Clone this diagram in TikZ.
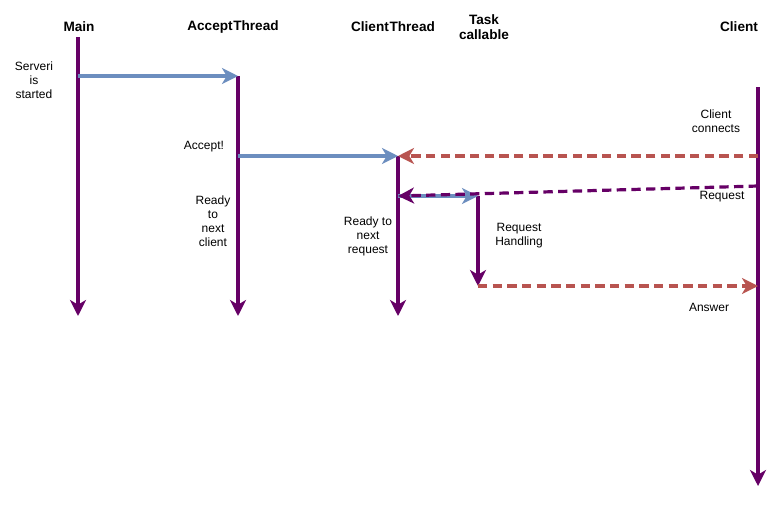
\documentclass[tikz,border=0pt]{standalone}
\usepackage{fontspec}
\setmainfont{Liberation Sans}
\usepackage{xcolor}
\usepackage{tikz}
\usetikzlibrary{arrows.meta}
\definecolor{lifepurple}{HTML}{660066}
\definecolor{msgblue}{HTML}{6C8EBF}
\definecolor{replyred}{HTML}{B85450}

\begin{document}
\begin{tikzpicture}[x=0.75pt,y=-0.75pt,
    tip/.style={-{Stealth[length=12pt,width=12pt,inset=3.5pt]}},
    life/.style={tip, draw=lifepurple, line width=2.4pt},
    call/.style={tip, draw=msgblue, line width=2.4pt},
    reply/.style={tip, draw=replyred, line width=2.4pt, dash pattern=on 7pt off 4pt},
    req/.style={tip, draw=lifepurple, line width=2.4pt, dash pattern=on 7pt off 4pt},
    head/.style={font=\bfseries\fontsize{10.2}{11.5}\selectfont, align=center},
    note/.style={font=\fontsize{9}{10.5}\selectfont, align=center}]
    \useasboundingbox (0,0) rectangle (767,511);

    % lifelines
    \coordinate (main top) at (78,37);    \coordinate (main end) at (78,316);
    \coordinate (acc top) at (238,76);    \coordinate (acc end) at (238,316);
    \coordinate (cli top) at (398,156);   \coordinate (cli end) at (398,316);
    \coordinate (task top) at (478,196);  \coordinate (task end) at (478,286);
    \coordinate (client top) at (758,87); \coordinate (client end) at (758,486);

    \node[head] (main) at (79,27) {Main};
    \node[head] (acc) at (233,27) {Accept\kern0.5pt Thread};
    \node[head] (cli) at (393,27) {Client\kern0.5pt Thread};
    \node[head] (task) at (484,27) {Task\\callable};
    \node[head] (client) at (739,27) {Client};

    \draw[life] (main top) -- (main end);
    \draw[life] (acc top) -- (acc end);
    \draw[life] (cli top) -- (cli end);
    \draw[life] (task top) -- (task end);
    \draw[life] (client top) -- (client end);

    % messages
    \coordinate (start) at (78,76);
    \coordinate (accept) at (238,156);
    \coordinate (connect) at (758,156);
    \coordinate (request) at (758,186);
    \coordinate (req in) at (398,196);
    \coordinate (answer) at (758,286);

    \draw[call] (start) -- (acc top);
    \draw[call] (accept) -- (cli top);
    \draw[reply] (connect) -- (cli top);
    \draw[call] (req in) -- (task top);
    \draw[req] (request) -- (req in);
    \draw[reply] (task end) -- (answer);

    % notes
    \node[note] (started) at (34,80) {Serveri\\is\\started};
    \node[note] (acc note) at (204,147) {Accept!};
    \node[note] (ready client) at (213,221) {Ready\\to\\next\\client};
    \node[note] (ready req) at (368,236) {Ready to\\next\\request};
    \node[note] (handling) at (519,236) {Request\\Handling};
    \node[note] (connects) at (716,121) {Client\\connects};
    \node[note] (req note) at (722,197) {Request};
    \node[note] (ans note) at (709,307) {Answer};
  \end{tikzpicture}
\end{document}
